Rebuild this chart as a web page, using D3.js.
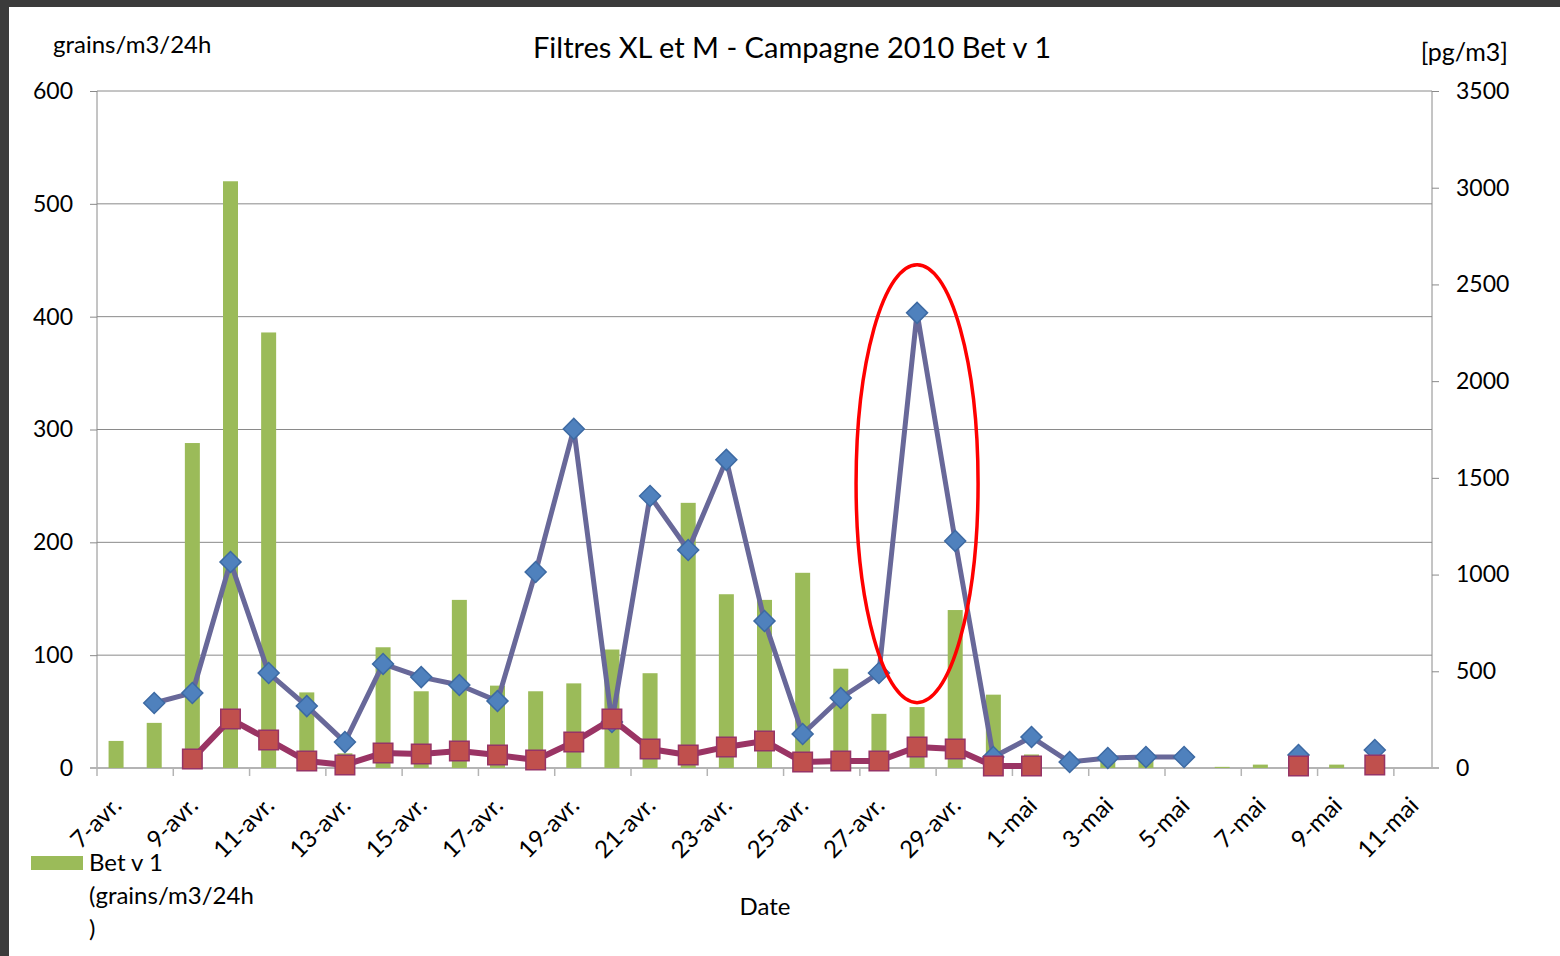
<!DOCTYPE html>
<html>
<head>
<meta charset="utf-8">
<script src="https://cdn.jsdelivr.net/npm/d3@7"></script>
<style>
  body { margin: 0; background: #fff; }
  text { font-family: Lato, "Open Sans", sans-serif; fill: #000; }
</style>
</head>
<body>
<script>
// dates of the campaign, 7 April -> 11 May 2010
var dates = ["7-avr.", "8-avr.", "9-avr.", "10-avr.", "11-avr.", "12-avr.", "13-avr.", "14-avr.", "15-avr.",
  "16-avr.", "17-avr.", "18-avr.", "19-avr.", "20-avr.", "21-avr.", "22-avr.", "23-avr.", "24-avr.", "25-avr.",
  "26-avr.", "27-avr.", "28-avr.", "29-avr.", "30-avr.", "1-mai", "2-mai", "3-mai", "4-mai", "5-mai", "6-mai",
  "7-mai", "8-mai", "9-mai", "10-mai", "11-mai"];

// Bet v 1 pollen counts (grains/m3/24h, left axis)
var betV1 = [24, 40, 288, 520, 386, 67, 13, 107, 68, 149, 73, 68, 75, 105, 84, 235, 154, 149, 173,
  88, 48, 54, 140, 65, 12, 0, 7, 9, 0, 1, 3, 0, 3, 0, 0];

// filter XL (pg/m3, right axis)
var filtreXL = [null, 336, 388, 1065, 491, 320, 134, 538, 470, 429, 346, 1013, 1753, 238, 1406, 1127, 1593,
  760, 176, 362, 491, 2353, 1174, 57, 160, 31, 52, 57, 57, null, null, 67, null, 93, null];

// filter M (pg/m3, right axis)
var filtreM = [null, null, 47, 253, 145, 36, 16, 78, 72, 88, 67, 41, 134, 253, 98, 67, 109, 140, 31,
  36, 36, 109, 98, 10, 10, null, null, null, null, null, null, 10, null, 16, null];

var leftTicks = [0, 100, 200, 300, 400, 500, 600];
var rightTicks = [0, 500, 1000, 1500, 2000, 2500, 3000, 3500];

(function () {
  "use strict";

  var width = 1560, height = 956;
  var plot = { left: 97, right: 1432, top: 91, bottom: 768 };

  var svg = d3.select("body").append("svg")
      .attr("width", width)
      .attr("height", height);

  // dark frame of the screenshot
  svg.append("rect").attr("x", 0).attr("y", 0).attr("width", width).attr("height", 7).attr("fill", "#3b3b3b");
  svg.append("rect").attr("x", 0).attr("y", 0).attr("width", 9).attr("height", height).attr("fill", "#3b3b3b");

  /***** Scales *****/
  var xScale = d3.scaleBand().domain(d3.range(dates.length)).range([plot.left, plot.right]);
  var yLeft = d3.scaleLinear().domain([0, 600]).range([plot.bottom, plot.top]);
  var yRight = d3.scaleLinear().domain([0, 3500]).range([plot.bottom, plot.top]);
  var cx = function (i) { return xScale(i) + xScale.bandwidth() / 2; };

  /***** Gridlines *****/
  svg.append("g").selectAll("line")
    .data(leftTicks.slice(1))
    .join("line")
      .attr("x1", plot.left).attr("x2", plot.right)
      .attr("y1", d => yLeft(d)).attr("y2", d => yLeft(d))
      .attr("stroke", "#8a8a8a").attr("stroke-width", 1);

  /***** Axes *****/
  var leftAxis = svg.append("g")
      .attr("transform", "translate(" + plot.left + ",0)")
      .call(d3.axisLeft(yLeft).tickValues(leftTicks).tickSize(7).tickPadding(17));
  var rightAxis = svg.append("g")
      .attr("transform", "translate(" + plot.right + ",0)")
      .call(d3.axisRight(yRight).tickValues(rightTicks).tickFormat(d3.format("d")).tickSize(7).tickPadding(17));
  [leftAxis, rightAxis].forEach(function (g) {
    g.select(".domain").attr("stroke", "#8a8a8a").attr("d", "M0," + plot.top + "V" + plot.bottom);
    g.selectAll(".tick line").attr("stroke", "#8a8a8a");
    g.selectAll(".tick text").attr("font-size", 23).attr("font-family", "Lato").attr("fill", "#000");
  });

  // x axis: baseline, ticks between every second day, rotated labels
  svg.append("line")
      .attr("x1", plot.left - 7).attr("x2", plot.right + 7)
      .attr("y1", plot.bottom).attr("y2", plot.bottom)
      .attr("stroke", "#b4b4b4").attr("stroke-width", 2);
  var evenIdx = d3.range(0, dates.length, 2);
  svg.append("g").selectAll("line")
    .data(evenIdx)
    .join("line")
      .attr("x1", d => xScale(d)).attr("x2", d => xScale(d))
      .attr("y1", plot.bottom).attr("y2", plot.bottom + 8)
      .attr("stroke", "#b4b4b4").attr("stroke-width", 1.5);
  svg.append("g").selectAll("text")
    .data(evenIdx)
    .join("text")
      .attr("transform", d => "translate(" + (cx(d) - 5) + "," + (plot.bottom + 27) + ") rotate(-45)")
      .attr("text-anchor", "end")
      .attr("dy", "0.71em")
      .attr("font-size", 24)
      .text(d => dates[d]);

  /***** Bars *****/
  var barW = 15;
  svg.append("g").selectAll("rect")
    .data(betV1)
    .join("rect")
      .attr("x", (d, i) => cx(i) - barW / 2)
      .attr("width", barW)
      .attr("y", d => yLeft(d))
      .attr("height", d => plot.bottom - yLeft(d))
      .attr("fill", "#9bbb59");

  /***** Lines *****/
  function drawSeries(values, lineColor, lineWidth, symbol, size, rot, fill, stroke) {
    var line = d3.line()
        .defined(d => d != null)
        .x((d, i) => cx(i))
        .y(d => yRight(d));
    svg.append("path")
        .datum(values)
        .attr("d", line)
        .attr("fill", "none")
        .attr("stroke", lineColor)
        .attr("stroke-width", lineWidth)
        .attr("stroke-linejoin", "round");
    var pts = values.map((v, i) => ({ v: v, i: i })).filter(d => d.v != null);
    svg.append("g").selectAll("path")
      .data(pts)
      .join("path")
        .attr("d", d3.symbol(symbol, size))
        .attr("transform", d => "translate(" + cx(d.i) + "," + yRight(d.v) + ") rotate(" + rot + ")")
        .attr("fill", fill)
        .attr("stroke", stroke)
        .attr("stroke-width", 1.5);
  }
  drawSeries(filtreXL, "#686899", 5, d3.symbolSquare, 220, 45, "#4f81bd", "#3d6aa3");
  drawSeries(filtreM, "#9a3464", 6, d3.symbolSquare, 380, 0, "#c0504d", "#963466");

  /***** Highlight ellipse *****/
  svg.append("ellipse")
      .attr("cx", cx(21)).attr("cy", yRight(1470))
      .attr("rx", 61).attr("ry", 219)
      .attr("fill", "none").attr("stroke", "#ff0000").attr("stroke-width", 3.5);

  /***** Titles *****/
  svg.append("text").attr("x", 792).attr("y", 58).attr("text-anchor", "middle")
      .attr("font-size", 29).text("Filtres XL et M - Campagne 2010 Bet v 1");
  svg.append("text").attr("x", 53).attr("y", 53).attr("font-size", 24).text("grains/m3/24h");
  svg.append("text").attr("x", 1508).attr("y", 61).attr("text-anchor", "end").attr("font-size", 25).text("[pg/m3]");
  svg.append("text").attr("x", 765).attr("y", 915).attr("text-anchor", "middle").attr("font-size", 24).text("Date");

  /***** Legend *****/
  svg.append("rect").attr("x", 31).attr("y", 856).attr("width", 52).attr("height", 14).attr("fill", "#9bbb59");
  var legend = svg.append("text").attr("x", 89).attr("y", 871).attr("font-size", 24);
  ["Bet v 1", "(grains/m3/24h", ")"].forEach(function (t, k) {
    legend.append("tspan").attr("x", 89).attr("dy", k === 0 ? 0 : 33).text(t);
  });
})();
</script>
</body>
</html>
